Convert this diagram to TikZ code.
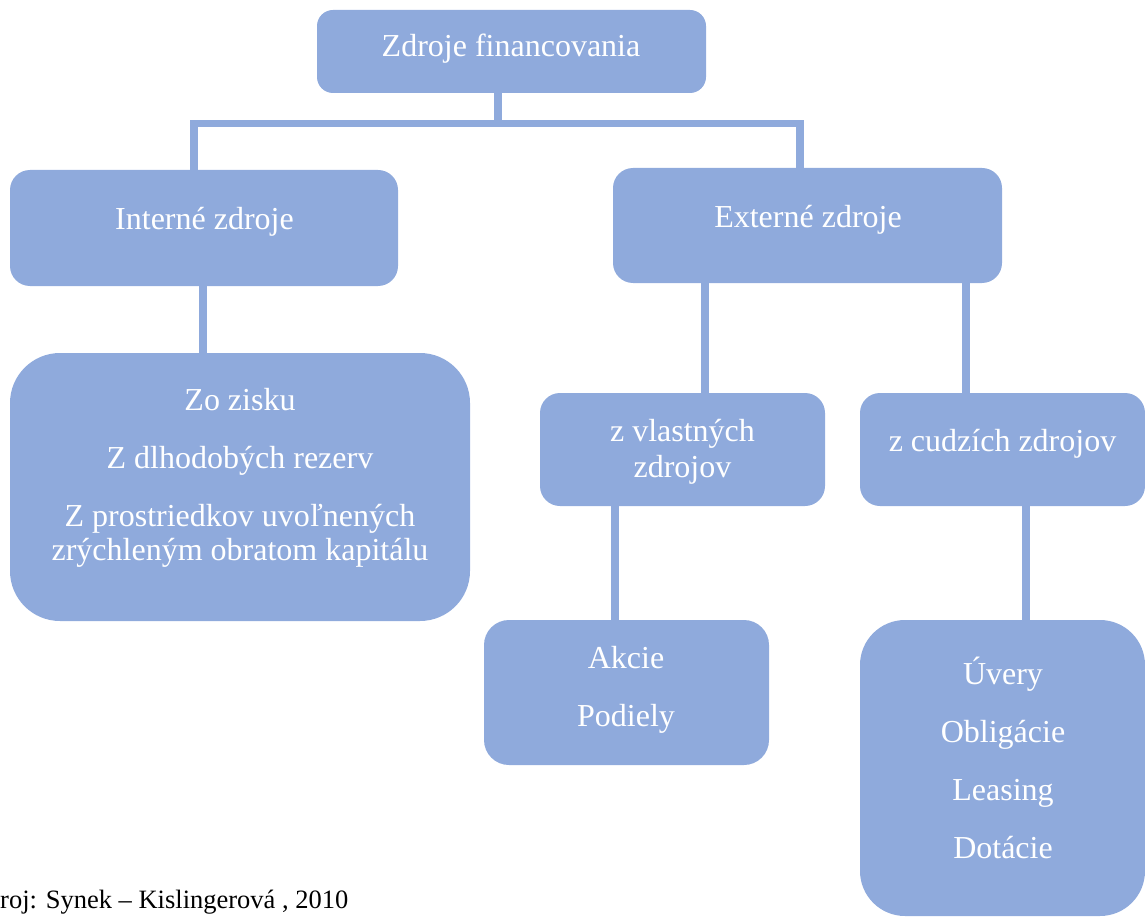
\documentclass[tikz,border=0pt]{standalone}
\usepackage{fontspec}
\setmainfont{Liberation Serif}
\definecolor{boxblue}{HTML}{8FAADC}
\begin{document}
\begin{tikzpicture}[x=1pt,y=-1pt,
  box/.style={fill=boxblue, draw=none, inner sep=0pt},
  txt/.style={text=white, font=\fontsize{32}{34}\selectfont, align=center, inner sep=0pt},
  conn/.style={draw=boxblue, line width=7.5pt, line cap=butt, line join=miter}]
\useasboundingbox (0,0) rectangle (1145,917);
% boxes
\node[box, rounded corners=16pt, minimum width=389pt, minimum height=83pt] (top) at (511.5,51.5) {};
\node[box, rounded corners=20pt, minimum width=388pt, minimum height=116pt] (int) at (204,228) {};
\node[box, rounded corners=20pt, minimum width=389pt, minimum height=115pt] (ext) at (807.5,225.5) {};
\node[box, rounded corners=50pt, minimum width=460pt, minimum height=268pt] (zisk) at (240,487) {};
\node[box, rounded corners=20pt, minimum width=285pt, minimum height=113pt] (vlast) at (682.5,449.5) {};
\node[box, rounded corners=20pt, minimum width=285pt, minimum height=113pt] (cudz) at (1002.5,449.5) {};
\node[box, rounded corners=25pt, minimum width=285pt, minimum height=145pt] (akcie) at (626.5,692.5) {};
\node[box, rounded corners=45pt, minimum width=285pt, minimum height=296pt] (uvery) at (1002.5,768) {};
% connector helper coordinates
\coordinate (j1) at (498,123.5);
\coordinate (busL) at (194,123.5);
\coordinate (busR) at (800,123.5);
\coordinate (c1) at (203,0);
\coordinate (c2) at (705,0);
\coordinate (c3) at (966,0);
\coordinate (c4) at (615,0);
\coordinate (c5) at (1026,0);
% connectors
\draw[conn] (top.south -| j1) -- (j1);
\draw[conn] (int.north -| busL) -- (busL) -- (busR) -- (ext.north -| busR);
\draw[conn] (int.south -| c1) -- (zisk.north -| c1);
\draw[conn] (ext.south -| c2) -- (vlast.north -| c2);
\draw[conn] (ext.south -| c3) -- (cudz.north -| c3);
\draw[conn] (vlast.south -| c4) -- (akcie.north -| c4);
\draw[conn] (cudz.south -| c5) -- (uvery.north -| c5);
% texts
\node[txt] (topT) at (511,49) {Zdroje financovania};
\node[txt] (intT) at (204.5,222) {Interné zdroje};
\node[txt] (extT) at (808,220) {Externé zdroje};
\node[txt] (ziskT) at (240,478) {Zo zisku\\[24pt] Z dlhodobých rezerv\\[24pt] Z prostriedkov uvoľnených\\ zrýchleným obratom kapitálu};
\node[txt] (vlastT) at (682.5,452) {z vlastných\\[2pt] zdrojov};
\node[txt] (cudzT) at (1002.5,444) {z cudzích zdrojov};
\node[txt] (akcieT) at (626,690) {Akcie\\[24pt] Podiely};
\node[txt] (uveryT) at (1003,758) {Úvery\\[24pt] Obligácie\\[24pt] Leasing\\[24pt] Dotácie};
\node[anchor=base west, inner sep=0pt, font=\fontsize{26.5}{30}\selectfont] (src) at (0,908) {roj: Synek – Kislingerová , 2010};
\end{tikzpicture}
\end{document}
